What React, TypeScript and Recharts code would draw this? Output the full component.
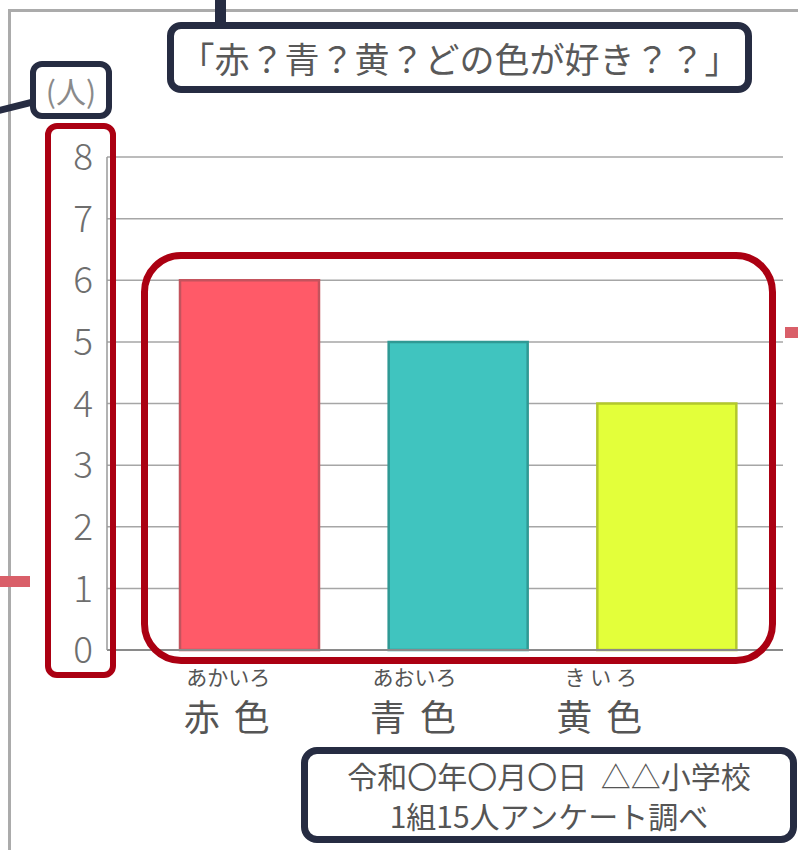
import { BarChart, Bar, XAxis, YAxis, CartesianGrid, ReferenceLine, Cell } from "recharts"

const categories = ["赤 色", "青 色", "黄 色"]
const readings = ["あかいろ", "あおいろ", "き い ろ"]
const votes = [6, 5, 4]
const barFills = ["#ff5a68", "#40c4bf", "#e3ff3a"]
const barStrokes = ["#c4535d", "#2f9994", "#b3c82c"]
const yTicks = [0, 1, 2, 3, 4, 5, 6, 7, 8]
const title = "「赤？青？黄？どの色が好き？？」"
const unitLabel = "(人)"
const sourceLines = ["令和〇年〇月〇日  △△小学校", "1組15人アンケート調べ"]

const data = categories.map((name, i) => ({ name, reading: readings[i], votes: votes[i] }))

const FONT = '"Noto Sans CJK JP", "Noto Sans", sans-serif'
const NAVY = "#262c42"
const CRIMSON = "#ab0012"

function CategoryTick(props: any) {
  const { x, y, payload, index } = props
  return (
    <g>
      <text x={x} y={y - 3} textAnchor="middle" fontSize={21} fill="#555" fontFamily={FONT}>
        {readings[index]}
      </text>
      <text x={x} y={y + 43} textAnchor="middle" fontSize={36} fill="#555" fontFamily={FONT} letterSpacing={3}>
        {payload.value}
      </text>
    </g>
  )
}

const box = (s: React.CSSProperties): React.CSSProperties => ({
  position: "absolute",
  boxSizing: "border-box",
  pointerEvents: "none",
  ...s,
})

export default function App() {
  return (
    <div style={{ position: "absolute", top: 0, left: 0, width: 798, height: 850, overflow: "hidden", background: "#fff", fontFamily: FONT }}>
      {/* outer frame */}
      <div style={box({ left: 8, top: 9, width: 800, height: 3, background: "#ababab" })} />
      <div style={box({ left: 8, top: 9, width: 3, height: 850, background: "#ababab" })} />

      <div style={{ position: "absolute", left: 0, top: 0 }}>
        <BarChart width={798} height={850} data={data} margin={{ top: 157, right: 15, bottom: 100, left: 47 }}>
          <CartesianGrid xAxisId="bars" vertical={false} stroke="#a6a6a6" strokeWidth={1.5} />
          <XAxis xAxisId="bars" dataKey="name" hide padding={{ left: 38, right: 12 }} />
          <XAxis
            xAxisId="labels"
            dataKey="name"
            height={100}
            axisLine={false}
            tickLine={false}
            interval={0}
            padding={{ left: 28, right: 89 }}
            tick={<CategoryTick />}
          />
          <YAxis
            domain={[0, 8]}
            ticks={yTicks}
            width={60}
            tickLine={false}
            tickMargin={8}
            axisLine={{ stroke: "#9a9a9a", strokeWidth: 1.5 }}
            tick={{ fill: "#6e6e6e", fontSize: 37, fontFamily: FONT, fontWeight: 300 }}
          />
          <ReferenceLine xAxisId="bars" y={0} stroke="#8a8a8a" strokeWidth={2} />
          <Bar xAxisId="bars" dataKey="votes" barSize={139} strokeWidth={2.5} isAnimationActive={false}>
            {data.map((d, i) => (
              <Cell key={d.name} fill={barFills[i]} stroke={barStrokes[i]} />
            ))}
          </Bar>
        </BarChart>
      </div>

      {/* title box */}
      <div style={box({ left: 215, top: 0, width: 11, height: 24, background: NAVY })} />
      <div
        style={box({
          left: 167, top: 22, width: 585, height: 71, border: `7px solid ${NAVY}`, borderRadius: 14, background: "#fff",
          display: "flex", alignItems: "center", justifyContent: "center", fontSize: 35, color: "#595959", whiteSpace: "nowrap",
        })}
      >
        {title}
      </div>

      {/* unit box */}
      <div style={box({ left: -2, top: 103, width: 34, height: 7, background: NAVY, transform: "rotate(-14deg)" })} />
      <div
        style={box({
          left: 30, top: 61, width: 82, height: 58, border: `6px solid ${NAVY}`, borderRadius: 12,
          display: "flex", alignItems: "center", justifyContent: "center", fontSize: 30, color: "#8a8a8a",
        })}
      >
        {unitLabel}
      </div>

      {/* highlight boxes */}
      <div style={box({ left: 45, top: 123, width: 71, height: 555, border: `6px solid ${CRIMSON}`, borderRadius: 12 })} />
      <div style={box({ left: 141, top: 252, width: 635, height: 412, border: `7px solid ${CRIMSON}`, borderRadius: 40 })} />

      {/* side markers */}
      <div style={box({ left: 0, top: 576, width: 30, height: 11, background: "#d95f69" })} />
      <div style={box({ left: 785, top: 327, width: 14, height: 11, background: "#d95f69" })} />

      {/* source box */}
      <div
        style={box({
          left: 301, top: 747, width: 496, height: 96, border: `7px solid ${NAVY}`, borderRadius: 16, background: "#fff",
          display: "flex", flexDirection: "column", alignItems: "center", justifyContent: "center",
          fontSize: 30, lineHeight: "40px", color: "#555", whiteSpace: "pre",
        })}
      >
        {sourceLines.map((l) => (
          <div key={l}>{l}</div>
        ))}
      </div>
    </div>
  )
}
